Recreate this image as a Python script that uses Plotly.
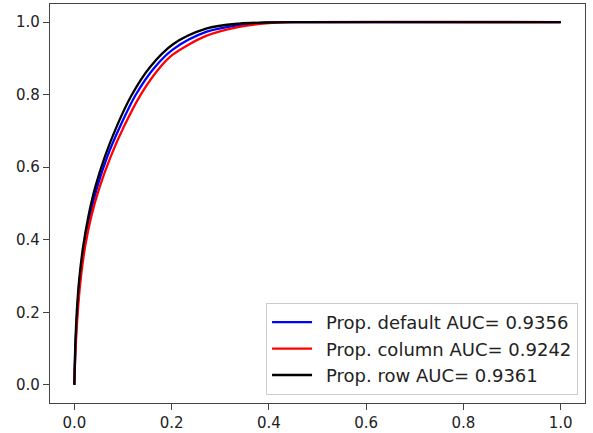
import plotly.graph_objects as go

fpr_default = [0, 0.0025, 0.006, 0.011, 0.020, 0.032, 0.047, 0.068, 0.094, 0.126,
               0.165, 0.203, 0.271, 0.339, 0.40, 0.45, 1.0]
tpr_default = [0, 0.11, 0.20, 0.29, 0.38, 0.465, 0.545, 0.630, 0.712, 0.799,
               0.875, 0.925, 0.973, 0.992, 0.999, 1.0, 1.0]
fpr_column = [0, 0.003, 0.007, 0.013, 0.022, 0.035, 0.052, 0.075, 0.102, 0.136,
              0.176, 0.203, 0.271, 0.339, 0.407, 0.45, 1.0]
tpr_column = [0, 0.11, 0.20, 0.29, 0.38, 0.465, 0.545, 0.630, 0.712, 0.799,
              0.875, 0.911, 0.962, 0.987, 0.998, 1.0, 1.0]
fpr_row = [0, 0.002, 0.005, 0.010, 0.018, 0.029, 0.043, 0.063, 0.087, 0.118,
           0.155, 0.203, 0.271, 0.339, 0.394, 0.45, 1.0]
tpr_row = [0, 0.11, 0.20, 0.29, 0.38, 0.465, 0.545, 0.630, 0.712, 0.799,
           0.875, 0.939, 0.982, 0.996, 0.999, 1.0, 1.0]

names = ["Prop. default AUC= 0.9356", "Prop. column AUC= 0.9242", "Prop. row AUC= 0.9361"]
xs = [fpr_default, fpr_column, fpr_row]
ys = [tpr_default, tpr_column, tpr_row]
colors = ["#0000ff", "#ff0000", "#000000"]

tick_vals = [0, 0.2, 0.4, 0.6, 0.8, 1.0]
tick_text = ["0.0", "0.2", "0.4", "0.6", "0.8", "1.0"]

fig = go.Figure()
for i in range(3):
    fig.add_trace(go.Scatter(x=xs[i], y=ys[i], mode="lines", name="\u2002" + names[i],
                             legendgroup=str(i),
                             line=dict(color=colors[i], width=2.3, shape="spline", smoothing=0.9)))

axis_common = dict(showline=True, linecolor="#444", linewidth=1.4, mirror=True,
                   ticks="outside", ticklen=6, tickwidth=1.2, tickcolor="#444", showgrid=False,
                   zeroline=False, automargin=False,
                   tickfont=dict(family="DejaVu Sans", size=15, color="#222"))
fig.update_xaxes(range=[-0.05, 1.05], tickvals=tick_vals, ticktext=tick_text, **axis_common)
fig.update_yaxes(range=[-0.05, 1.05], tickvals=tick_vals, ticktext=tick_text, **axis_common)

fig.update_layout(
    width=593, height=433,
    margin=dict(l=50, r=8, t=4, b=30),
    plot_bgcolor="white", paper_bgcolor="white",
    legend=dict(x=0.987, y=0.02, xanchor="right", yanchor="bottom",
                bgcolor="white", bordercolor="#cccccc", borderwidth=1,
                font=dict(family="DejaVu Sans", size=18, color="#222"),
                tracegroupgap=5, traceorder="normal", itemwidth=40),
)
fig.write_html("out.html")
